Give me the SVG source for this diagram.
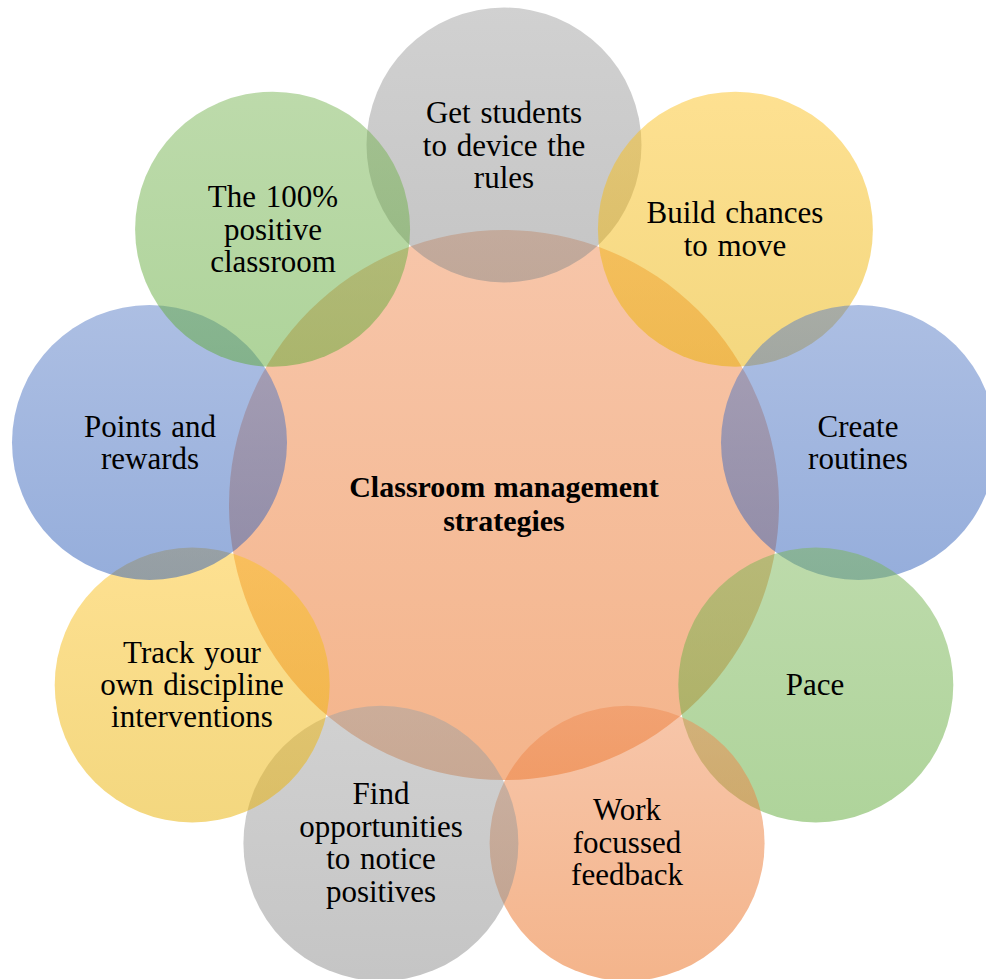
<svg xmlns="http://www.w3.org/2000/svg" width="986" height="979" viewBox="0 0 986 979">
<style>
  .c { fill-opacity: 0.5; }
  .t { font-family: "Liberation Serif", "Times New Roman", serif; font-size: 31px; fill: #000; text-anchor: middle; word-spacing: 2px; }
  .b { font-weight: bold; font-size: 30px; word-spacing: 1px; }
</style>
<defs>
  <linearGradient id="gOrange" x1="0" y1="0" x2="0" y2="1">
    <stop offset="0" stop-color="#ef8d55"/>
    <stop offset="1" stop-color="#e96a18"/>
  </linearGradient>
  <linearGradient id="gGray" x1="0" y1="0" x2="0" y2="1">
    <stop offset="0" stop-color="#a3a3a3"/>
    <stop offset="1" stop-color="#8b8b8b"/>
  </linearGradient>
  <linearGradient id="gYellow" x1="0" y1="0" x2="0" y2="1">
    <stop offset="0" stop-color="#fcc224"/>
    <stop offset="1" stop-color="#e8b000"/>
  </linearGradient>
  <linearGradient id="gBlue" x1="0" y1="0" x2="0" y2="1">
    <stop offset="0" stop-color="#5b7fc7"/>
    <stop offset="1" stop-color="#2d5db8"/>
  </linearGradient>
  <linearGradient id="gGreen" x1="0" y1="0" x2="0" y2="1">
    <stop offset="0" stop-color="#7bb657"/>
    <stop offset="1" stop-color="#5fa937"/>
  </linearGradient>
</defs>
<rect width="986" height="979" fill="#ffffff"/>
<g id="center">
  <circle class="c" cx="504" cy="505" r="275" fill="url(#gOrange)"/>
</g>
<g id="n1"><circle class="c" cx="504" cy="145" r="137.5" fill="url(#gGray)"/></g>
<g id="n2"><circle class="c" cx="735.4" cy="229.2" r="137.5" fill="url(#gYellow)"/></g>
<g id="n3"><circle class="c" cx="858.5" cy="442.5" r="137.5" fill="url(#gBlue)"/></g>
<g id="n4"><circle class="c" cx="815.8" cy="685" r="137.5" fill="url(#gGreen)"/></g>
<g id="n5"><circle class="c" cx="627.1" cy="843.3" r="137.5" fill="url(#gOrange)"/></g>
<g id="n6"><circle class="c" cx="380.9" cy="843.3" r="137.5" fill="url(#gGray)"/></g>
<g id="n7"><circle class="c" cx="192.2" cy="685" r="137.5" fill="url(#gYellow)"/></g>
<g id="n8"><circle class="c" cx="149.5" cy="442.5" r="137.5" fill="url(#gBlue)"/></g>
<g id="n9"><circle class="c" cx="272.6" cy="229.2" r="137.5" fill="url(#gGreen)"/></g>
<g id="connectors"></g>
<g id="labels">
  <text class="t b" x="504" y="497">Classroom management</text>
  <text class="t b" x="504" y="531">strategies</text>

  <text class="t" x="504" y="123">Get students</text>
  <text class="t" x="504" y="156">to device the</text>
  <text class="t" x="504" y="188">rules</text>

  <text class="t" x="735" y="223">Build chances</text>
  <text class="t" x="735" y="256">to move</text>

  <text class="t" x="858" y="437">Create</text>
  <text class="t" x="858" y="469">routines</text>

  <text class="t" x="815" y="695">Pace</text>

  <text class="t" x="627" y="820">Work</text>
  <text class="t" x="627" y="853">focussed</text>
  <text class="t" x="627" y="885">feedback</text>

  <text class="t" x="381" y="804">Find</text>
  <text class="t" x="381" y="837">opportunities</text>
  <text class="t" x="381" y="869">to notice</text>
  <text class="t" x="381" y="902">positives</text>

  <text class="t" x="192" y="663">Track your</text>
  <text class="t" x="192" y="695">own discipline</text>
  <text class="t" x="192" y="727">interventions</text>

  <text class="t" x="150" y="437">Points and</text>
  <text class="t" x="150" y="469">rewards</text>

  <text class="t" x="273" y="207">The 100%</text>
  <text class="t" x="273" y="240">positive</text>
  <text class="t" x="273" y="272">classroom</text>
</g>
</svg>
